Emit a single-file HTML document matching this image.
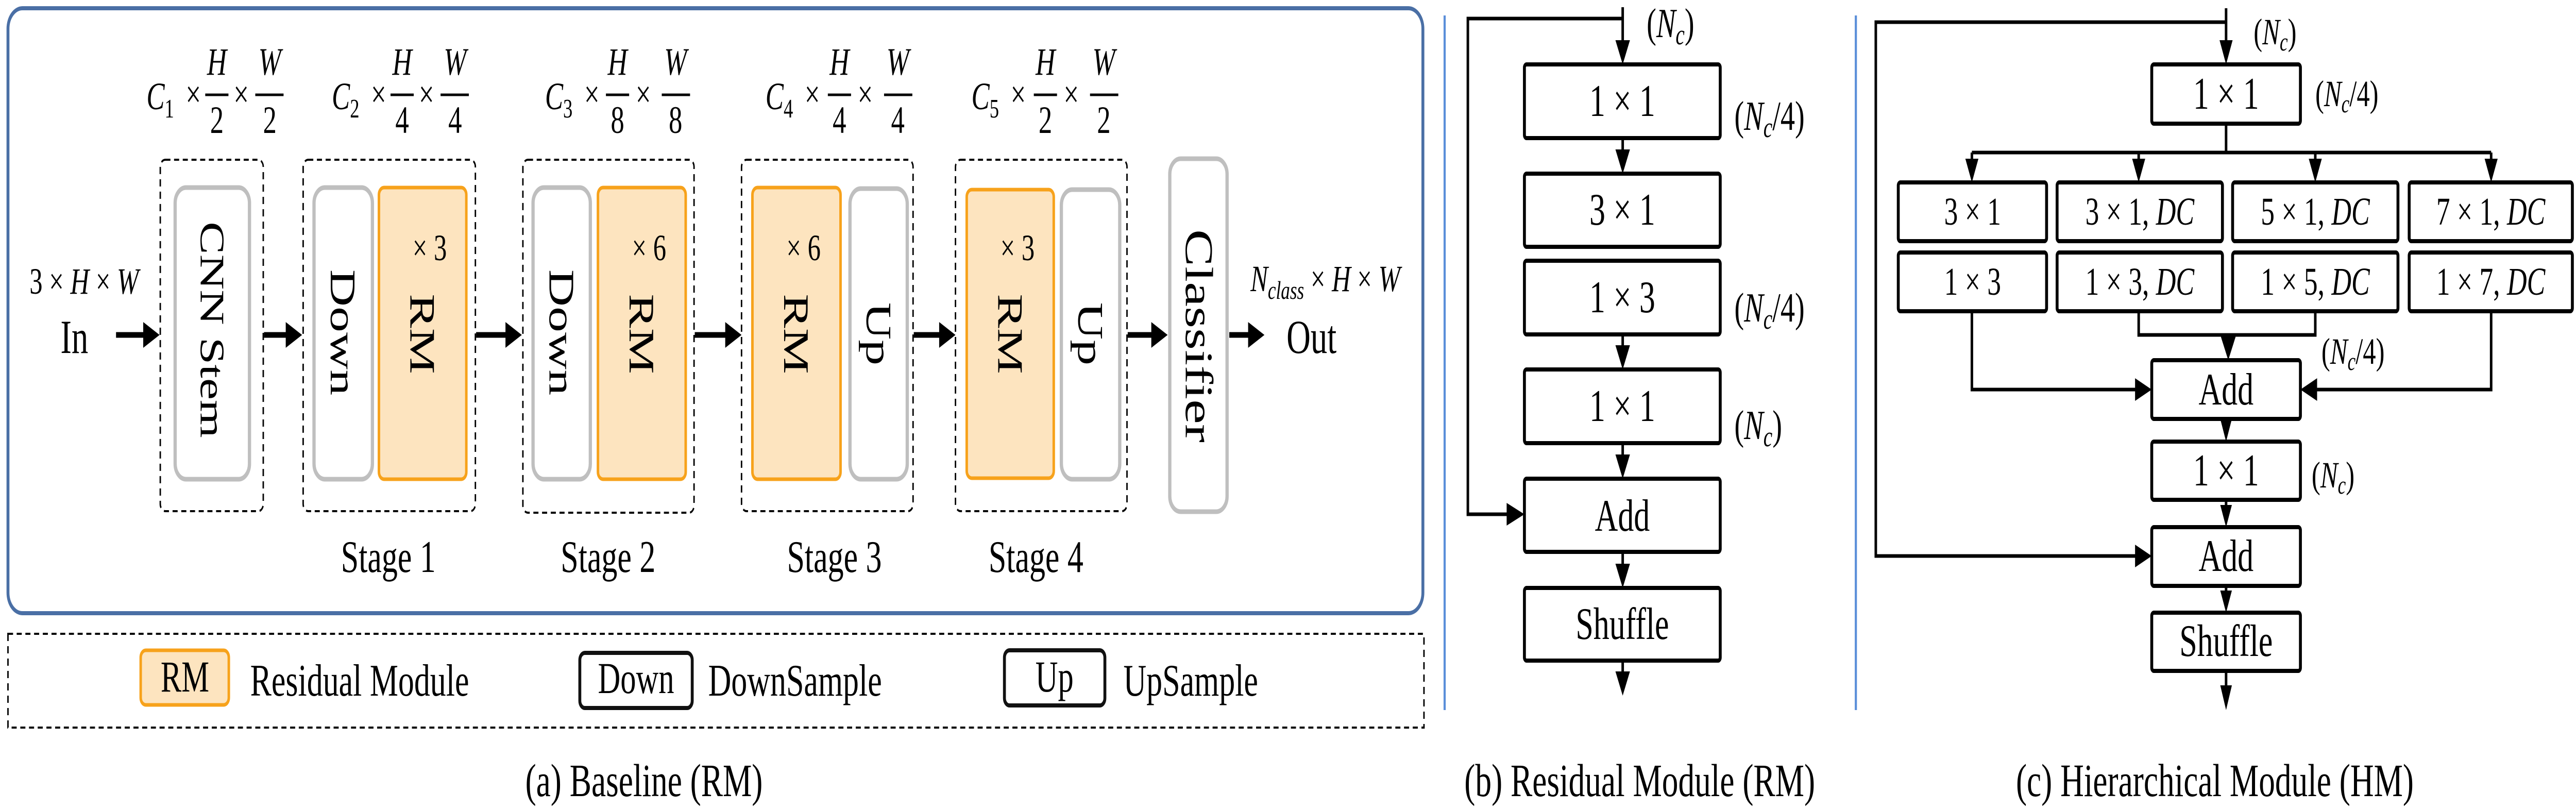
<!DOCTYPE html>
<html><head><meta charset="utf-8"><style>
html,body{margin:0;padding:0;background:#fff;width:100%;height:100%;overflow:hidden}
svg{display:block;width:100vw;height:100vh}
text{font-family:"Liberation Serif",serif;fill:#000}
.i{font-style:italic}
</style></head><body>
<svg viewBox="0 0 7104 1570" preserveAspectRatio="none" xmlns="http://www.w3.org/2000/svg">
<rect width="7104" height="1570" fill="#fff"/>

<!-- Panel a -->
<rect x="22" y="16" width="3902" height="1174" rx="40" fill="none" stroke="#4a6fa5" stroke-width="8"/>
<rect x="22" y="1230" width="3905" height="182" fill="none" stroke="#000" stroke-width="4" stroke-dasharray="14,10"/>

<g fill="none" stroke="#000" stroke-width="4" stroke-dasharray="14,10">
<rect x="442" y="310" width="284" height="682" rx="14"/>
<rect x="836" y="310" width="475" height="682" rx="14"/>
<rect x="1442" y="310" width="472" height="685" rx="14"/>
<rect x="2045" y="310" width="473" height="682" rx="14"/>
<rect x="2635" y="310" width="473" height="682" rx="14"/>
</g>
<g fill="#fff" stroke="#bfbfbf" stroke-width="9">
<rect x="483" y="364" width="205" height="566" rx="30"/>
<rect x="866" y="364" width="161" height="566" rx="30"/>
<rect x="1470" y="364" width="158" height="566" rx="30"/>
<rect x="2344" y="366" width="158" height="564" rx="30"/>
<rect x="2927" y="368" width="161" height="562" rx="30"/>
<rect x="3226" y="308" width="158" height="685" rx="30"/>
</g>
<g fill="#fde4bf" stroke="#f7a21b" stroke-width="7">
<rect x="1045" y="364" width="241" height="566" rx="14"/>
<rect x="1649" y="364" width="242" height="566" rx="14"/>
<rect x="2075" y="364" width="243" height="566" rx="14"/>
<rect x="2666" y="368" width="240" height="560" rx="14"/>
</g>
<g font-size="100">
<text transform="translate(585,640) rotate(90)" text-anchor="middle" dominant-baseline="central" font-size="95">CNN Stem</text>
<text transform="translate(946,645) rotate(90)" text-anchor="middle" dominant-baseline="central">Down</text>
<text transform="translate(1165,648) rotate(90)" text-anchor="middle" dominant-baseline="central">RM</text>
<text transform="translate(1549,645) rotate(90)" text-anchor="middle" dominant-baseline="central">Down</text>
<text transform="translate(1770,648) rotate(90)" text-anchor="middle" dominant-baseline="central">RM</text>
<text transform="translate(2196,648) rotate(90)" text-anchor="middle" dominant-baseline="central">RM</text>
<text transform="translate(2423,648) rotate(90)" text-anchor="middle" dominant-baseline="central">Up</text>
<text transform="translate(2786,648) rotate(90)" text-anchor="middle" dominant-baseline="central">RM</text>
<text transform="translate(3007,648) rotate(90)" text-anchor="middle" dominant-baseline="central">Up</text>
<text transform="translate(3305,652) rotate(90)" text-anchor="middle" dominant-baseline="central" font-size="108">Classifier</text>
</g>
<g font-size="72" text-anchor="middle">
<text x="1185" y="505">× 3</text>
<text x="1790" y="505">× 6</text>
<text x="2216" y="505">× 6</text>
<text x="2806" y="505">× 3</text>
</g>
<g stroke="#000" stroke-width="11">
<line x1="320" y1="650" x2="400" y2="650"/>
<line x1="728" y1="650" x2="793" y2="650"/>
<line x1="1313" y1="650" x2="1399" y2="650"/>
<line x1="1916" y1="650" x2="2005" y2="650"/>
<line x1="2520" y1="650" x2="2595" y2="650"/>
<line x1="3110" y1="650" x2="3180" y2="650"/>
<line x1="3390" y1="650" x2="3447" y2="650"/>
</g>
<g fill="#000">
<path d="M395,625 L440,650 L395,675 z"/>
<path d="M788,625 L833,650 L788,675 z"/>
<path d="M1394,625 L1439,650 L1394,675 z"/>
<path d="M2000,625 L2045,650 L2000,675 z"/>
<path d="M2590,625 L2635,650 L2590,675 z"/>
<path d="M3175,625 L3220,650 L3175,675 z"/>
<path d="M3442,625 L3487,650 L3442,675 z"/>
</g>
<text x="205" y="685" font-size="92" text-anchor="middle">In</text>
<text x="3617" y="685" font-size="92" text-anchor="middle">Out</text>
<text x="232" y="570" font-size="72" text-anchor="middle">3 × <tspan class="i">H</tspan> × <tspan class="i">W</tspan></text>
<text x="3655" y="565" font-size="72" text-anchor="middle"><tspan class="i">N</tspan><tspan class="i" font-size="50" dy="15">class</tspan><tspan dy="-15"> × </tspan><tspan class="i">H</tspan> × <tspan class="i">W</tspan></text>

<g font-size="75">
<g transform="translate(404,0)">
<text x="0" y="212" class="i">C</text><text x="50" y="228" font-size="52">1</text>
<text x="108" y="208">×</text>
<text x="194" y="145" text-anchor="middle" class="i">H</text><line x1="162" y1="184" x2="226" y2="184" stroke="#000" stroke-width="5"/><text x="194" y="258" text-anchor="middle">2</text>
<text x="240" y="208">×</text>
<text x="340" y="145" text-anchor="middle" class="i">W</text><line x1="300" y1="184" x2="378" y2="184" stroke="#000" stroke-width="5"/><text x="340" y="258" text-anchor="middle">2</text>
</g>
<g transform="translate(915,0)">
<text x="0" y="212" class="i">C</text><text x="50" y="228" font-size="52">2</text>
<text x="108" y="208">×</text>
<text x="194" y="145" text-anchor="middle" class="i">H</text><line x1="162" y1="184" x2="226" y2="184" stroke="#000" stroke-width="5"/><text x="194" y="258" text-anchor="middle">4</text>
<text x="240" y="208">×</text>
<text x="340" y="145" text-anchor="middle" class="i">W</text><line x1="300" y1="184" x2="378" y2="184" stroke="#000" stroke-width="5"/><text x="340" y="258" text-anchor="middle">4</text>
</g>
<g transform="translate(1503,0)">
<text x="0" y="212" class="i">C</text><text x="50" y="228" font-size="52">3</text>
<text x="108" y="208">×</text>
<text x="200" y="145" text-anchor="middle" class="i">H</text><line x1="168" y1="184" x2="232" y2="184" stroke="#000" stroke-width="5"/><text x="200" y="258" text-anchor="middle">8</text>
<text x="250" y="208">×</text>
<text x="360" y="145" text-anchor="middle" class="i">W</text><line x1="322" y1="184" x2="400" y2="184" stroke="#000" stroke-width="5"/><text x="360" y="258" text-anchor="middle">8</text>
</g>
<g transform="translate(2111,0)">
<text x="0" y="212" class="i">C</text><text x="50" y="228" font-size="52">4</text>
<text x="108" y="208">×</text>
<text x="204" y="145" text-anchor="middle" class="i">H</text><line x1="172" y1="184" x2="236" y2="184" stroke="#000" stroke-width="5"/><text x="204" y="258" text-anchor="middle">4</text>
<text x="254" y="208">×</text>
<text x="365" y="145" text-anchor="middle" class="i">W</text><line x1="327" y1="184" x2="405" y2="184" stroke="#000" stroke-width="5"/><text x="365" y="258" text-anchor="middle">4</text>
</g>
<g transform="translate(2679,0)">
<text x="0" y="212" class="i">C</text><text x="50" y="228" font-size="52">5</text>
<text x="108" y="208">×</text>
<text x="204" y="145" text-anchor="middle" class="i">H</text><line x1="172" y1="184" x2="236" y2="184" stroke="#000" stroke-width="5"/><text x="204" y="258" text-anchor="middle">2</text>
<text x="254" y="208">×</text>
<text x="365" y="145" text-anchor="middle" class="i">W</text><line x1="327" y1="184" x2="405" y2="184" stroke="#000" stroke-width="5"/><text x="365" y="258" text-anchor="middle">2</text>
</g>
</g>
<g font-size="88" text-anchor="middle">
<text x="1071" y="1110">Stage 1</text>
<text x="1677" y="1110">Stage 2</text>
<text x="2301" y="1110">Stage 3</text>
<text x="2857" y="1110">Stage 4</text>
</g>
<rect x="388" y="1262" width="243" height="106" rx="14" fill="#fde4bf" stroke="#f7a21b" stroke-width="7"/>
<text x="510" y="1342" font-size="86" text-anchor="middle">RM</text>
<text x="690" y="1350" font-size="88">Residual Module</text>
<rect x="1599" y="1267" width="310" height="107" rx="14" fill="#fff" stroke="#111" stroke-width="8"/>
<text x="1754" y="1345" font-size="86" text-anchor="middle">Down</text>
<text x="1953" y="1350" font-size="88">DownSample</text>
<rect x="2770" y="1262" width="277" height="107" rx="14" fill="#fff" stroke="#111" stroke-width="8"/>
<text x="2908" y="1342" font-size="86" text-anchor="middle">Up</text>
<text x="3098" y="1350" font-size="88">UpSample</text>
<text x="1776" y="1545" font-size="90" text-anchor="middle">(a) Baseline (RM)</text>

<line x1="3984" y1="30" x2="3984" y2="1378" stroke="#5b8fd9" stroke-width="6"/>
<line x1="5118" y1="30" x2="5118" y2="1378" stroke="#5b8fd9" stroke-width="6"/>

<!-- Panel b -->
<g fill="#fff" stroke="#000" stroke-width="8">
<rect x="4204" y="125" width="540" height="143" rx="6"/>
<rect x="4204" y="337" width="540" height="142" rx="6"/>
<rect x="4204" y="506" width="540" height="143" rx="6"/>
<rect x="4204" y="717" width="540" height="143" rx="6"/>
<rect x="4204" y="929" width="540" height="142" rx="6"/>
<rect x="4204" y="1141" width="540" height="141" rx="6"/>
</g>
<g stroke="#000" stroke-width="7" fill="none">
<polyline points="4475,36 4048,36 4048,998 4160,998"/>
<line x1="4475" y1="14" x2="4475" y2="80"/>
</g>
<g fill="#000">
<path d="M4455,78 L4495,78 L4475,125 z"/>
<path d="M4455,290 L4495,290 L4475,337 z"/>
<path d="M4455,670 L4495,670 L4475,717 z"/>
<path d="M4455,882 L4495,882 L4475,929 z"/>
<path d="M4455,1094 L4495,1094 L4475,1141 z"/>
<path d="M4455,1303 L4495,1303 L4475,1350 z"/>
<path d="M4155,976 L4204,998 L4155,1020 z"/>
</g>
<g stroke="#000" stroke-width="7">
<line x1="4475" y1="268" x2="4475" y2="292"/>
<line x1="4475" y1="649" x2="4475" y2="672"/>
<line x1="4475" y1="860" x2="4475" y2="884"/>
<line x1="4475" y1="1071" x2="4475" y2="1096"/>
<line x1="4475" y1="1282" x2="4475" y2="1305"/>
</g>
<g font-size="88" text-anchor="middle">
<text x="4474" y="225">1 × 1</text>
<text x="4474" y="436">3 × 1</text>
<text x="4474" y="606">1 × 3</text>
<text x="4474" y="817">1 × 1</text>
<text x="4474" y="1030">Add</text>
<text x="4474" y="1240">Shuffle</text>
</g>
<g font-size="80">
<text x="4541" y="72">(<tspan class="i">N</tspan><tspan class="i" font-size="56" dy="14">c</tspan><tspan dy="-14">)</tspan></text>
<text x="4783" y="252">(<tspan class="i">N</tspan><tspan class="i" font-size="56" dy="14">c</tspan><tspan dy="-14">/4)</tspan></text>
<text x="4783" y="624">(<tspan class="i">N</tspan><tspan class="i" font-size="56" dy="14">c</tspan><tspan dy="-14">/4)</tspan></text>
<text x="4783" y="852">(<tspan class="i">N</tspan><tspan class="i" font-size="56" dy="14">c</tspan><tspan dy="-14">)</tspan></text>
</g>
<text x="4522" y="1545" font-size="90" text-anchor="middle">(b) Residual Module (RM)</text>

<!-- Panel c -->
<g fill="#fff" stroke="#000" stroke-width="8">
<rect x="5934" y="125" width="410" height="115" rx="6"/>
<rect x="5235" y="354" width="409" height="114" rx="6"/>
<rect x="5673" y="354" width="456" height="114" rx="6"/>
<rect x="6157" y="354" width="456" height="114" rx="6"/>
<rect x="6644" y="354" width="450" height="114" rx="6"/>
<rect x="5235" y="490" width="409" height="114" rx="6"/>
<rect x="5673" y="490" width="456" height="114" rx="6"/>
<rect x="6157" y="490" width="456" height="114" rx="6"/>
<rect x="6644" y="490" width="450" height="114" rx="6"/>
<rect x="5934" y="699" width="410" height="114" rx="6"/>
<rect x="5934" y="857" width="410" height="113" rx="6"/>
<rect x="5934" y="1023" width="410" height="114" rx="6"/>
<rect x="5934" y="1189" width="410" height="113" rx="6"/>
</g>
<g stroke="#000" stroke-width="7" fill="none">
<line x1="6139" y1="16" x2="6139" y2="80"/>
<polyline points="6139,43 5173,43 5173,1079 5890,1079"/>
<line x1="6139" y1="240" x2="6139" y2="296"/>
<line x1="5438" y1="296" x2="6870" y2="296"/>
<line x1="5438" y1="296" x2="5438" y2="312"/>
<line x1="5898" y1="296" x2="5898" y2="312"/>
<line x1="6385" y1="296" x2="6385" y2="312"/>
<line x1="6870" y1="296" x2="6870" y2="312"/>
<polyline points="5438,604 5438,756 5890,756"/>
<polyline points="6870,604 6870,756 6390,756"/>
<polyline points="5898,604 5898,650 6385,650 6385,604"/>
<line x1="6145" y1="650" x2="6145" y2="660"/>
<line x1="6139" y1="813" x2="6139" y2="820"/>
<line x1="6139" y1="970" x2="6139" y2="985"/>
<line x1="6139" y1="1137" x2="6139" y2="1150"/>
<line x1="6139" y1="1302" x2="6139" y2="1330"/>
</g>
<g fill="#000">
<path d="M6121,78 L6157,78 L6139,125 z"/>
<path d="M5420,308 L5456,308 L5438,354 z"/>
<path d="M5880,308 L5916,308 L5898,354 z"/>
<path d="M6367,308 L6403,308 L6385,354 z"/>
<path d="M6852,308 L6888,308 L6870,354 z"/>
<path d="M6124,652 L6166,652 L6145,699 z"/>
<path d="M5888,734 L5934,756 L5888,778 z"/>
<path d="M6390,734 L6344,756 L6390,778 z"/>
<path d="M6123,813 L6155,813 L6139,857 z"/>
<path d="M6123,980 L6155,980 L6139,1023 z"/>
<path d="M6123,1146 L6155,1146 L6139,1189 z"/>
<path d="M6123,1330 L6155,1330 L6139,1378 z"/>
<path d="M5888,1057 L5934,1079 L5888,1101 z"/>
</g>
<g font-size="88" text-anchor="middle">
<text x="6139" y="211">1 × 1</text>
<text x="6139" y="785">Add</text>
<text x="6139" y="942">1 × 1</text>
<text x="6139" y="1108">Add</text>
<text x="6139" y="1273">Shuffle</text>
</g>
<g font-size="76" text-anchor="middle">
<text x="5440" y="436">3 × 1</text>
<text x="5901" y="436">3 × 1, <tspan class="i">DC</tspan></text>
<text x="6385" y="436">5 × 1, <tspan class="i">DC</tspan></text>
<text x="6869" y="436">7 × 1, <tspan class="i">DC</tspan></text>
<text x="5440" y="572">1 × 3</text>
<text x="5901" y="572">1 × 3, <tspan class="i">DC</tspan></text>
<text x="6385" y="572">1 × 5, <tspan class="i">DC</tspan></text>
<text x="6869" y="572">1 × 7, <tspan class="i">DC</tspan></text>
</g>
<g font-size="72">
<text x="6215" y="86">(<tspan class="i">N</tspan><tspan class="i" font-size="50" dy="12">c</tspan><tspan dy="-12">)</tspan></text>
<text x="6385" y="206">(<tspan class="i">N</tspan><tspan class="i" font-size="50" dy="12">c</tspan><tspan dy="-12">/4)</tspan></text>
<text x="6402" y="706">(<tspan class="i">N</tspan><tspan class="i" font-size="50" dy="12">c</tspan><tspan dy="-12">/4)</tspan></text>
<text x="6375" y="946">(<tspan class="i">N</tspan><tspan class="i" font-size="50" dy="12">c</tspan><tspan dy="-12">)</tspan></text>
</g>
<text x="6108" y="1545" font-size="90" text-anchor="middle">(c) Hierarchical Module (HM)</text>
</svg>
</body></html>
